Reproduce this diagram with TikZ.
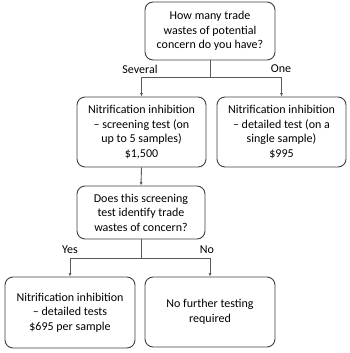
\documentclass[tikz,border=0pt]{standalone}
\usepackage{fontspec}
\setmainfont{Carlito}
\definecolor{lineGray}{HTML}{595959}
\definecolor{boxEdge}{HTML}{404040}
\usetikzlibrary{calc, positioning, arrows.meta}

\tikzset{
  stepbox/.style={draw=boxEdge, line width=0.9pt, rounded corners=8pt, fill=white,
    align=center, inner sep=2pt, font=\fontsize{12}{14.6}\selectfont},
  link/.style={draw=lineGray, line width=0.9pt},
  arr/.style={link, -{Latex[length=3.5pt, width=3pt]}},
  branch/.style={font=\fontsize{12}{14.6}\selectfont, inner sep=1pt}
}

\begin{document}
\begin{tikzpicture}[x=1pt, y=-1pt]
  \useasboundingbox (0,0) rectangle (350,353);

  % question boxes
  \node[stepbox, minimum width=130pt, minimum height=58pt] (howMany) at (210,31)
    {How many trade\\wastes of potential\\concern do you have?};
  \node[stepbox, minimum width=128pt, minimum height=53pt] (doesId) at (141,212.5)
    {Does this screening\\test identify trade\\wastes of concern?};

  % test boxes
  \node[stepbox, minimum width=129pt, minimum height=70pt] (screenTest) at (141.5,132)
    {Nitrification inhibition\\– screening test (on\\up to 5 samples)\\\$1,500};
  \node[stepbox, minimum width=129pt, minimum height=70pt] (singleTest) at (281.5,132)
    {Nitrification inhibition\\– detailed test (on a\\single sample)\\\$995};
  \node[stepbox, minimum width=130pt, minimum height=71pt] (detailTests) at (70,312.5)
    {Nitrification inhibition\\– detailed tests\\\$695 per sample};
  \node[stepbox, minimum width=130pt, minimum height=70pt] (noFurther) at (210,312)
    {No further testing\\required};

  % junctions
  \coordinate (splitA) at (210,77);
  \coordinate (splitB) at (141,258);

  \draw[link] (howMany.south) -- (splitA);
  \draw[arr] (splitA) -| (screenTest.north);
  \draw[arr] (splitA) -| (singleTest.north);
  \draw[arr] (screenTest.south) -- (doesId.north);
  \draw[link] (doesId.south) -- (splitB);
  \draw[arr] (splitB) -| (detailTests.north);
  \draw[arr] (splitB) -| (noFurther.north);

  % branch labels
  \node[branch] (several) at (140,69) {Several};
  \node[branch] (one) at (281,69) {One};
  \node[branch] (yes) at (70,250) {Yes};
  \node[branch] (no) at (207,250) {No};
\end{tikzpicture}
\end{document}
